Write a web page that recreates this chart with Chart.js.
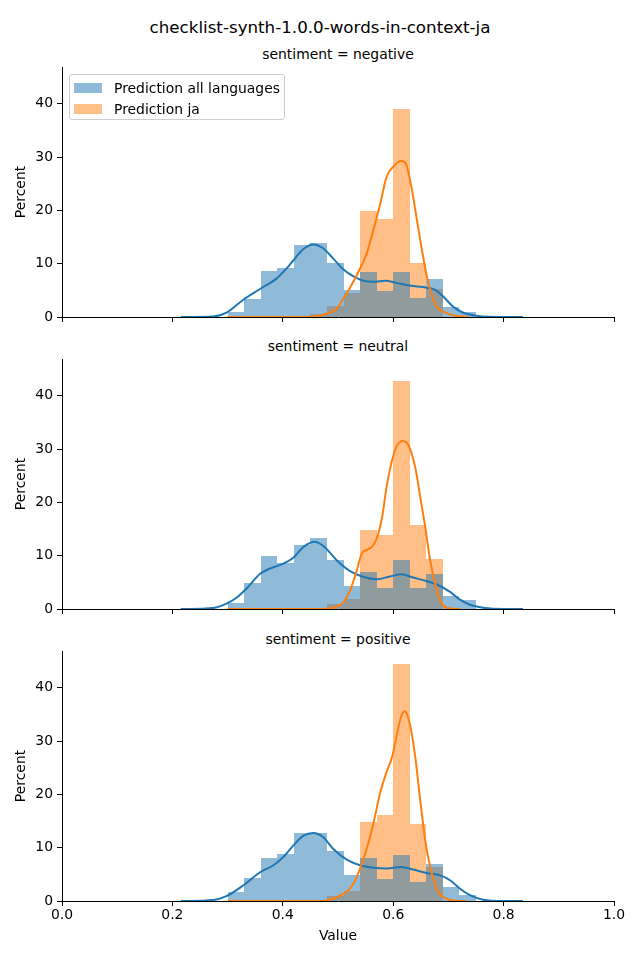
<!DOCTYPE html>
<html>
<head>
<meta charset="utf-8">
<script src="https://cdn.jsdelivr.net/npm/chart.js@4.4.0/dist/chart.umd.min.js"></script>
<style>
    body { margin: 0; background: #fff; font-family: "DejaVu Sans", sans-serif; color: #000; }
    #fig { position: relative; width: 640px; height: 960px; overflow: hidden; }
    .panel { position: absolute; left: 0; width: 640px; }
    .txt { position: absolute; white-space: nowrap; transform: translate(-50%, -50%); }
    .legend {
        position: absolute; left: 69px; top: 74px; width: 214px; height: 44px; z-index: 2;
        border: 1px solid #cccccc; border-radius: 3px; background: rgba(255, 255, 255, 0.8);
        font-size: 13.9px;
    }
    .legend .row { position: absolute; left: 4px; height: 16px; line-height: 16px; }
    .legend .swatch { position: absolute; left: 0; top: 2px; width: 28px; height: 10px; }
    .legend .label { position: absolute; left: 40px; top: -1px; white-space: nowrap; }
</style>
</head>
<body>
<div id="fig">
    <div class="txt" id="suptitle" style="left:320px; top:27px; font-size:16.7px;"></div>
    <div class="txt" id="title0" style="left:338px; top:54px; font-size:13.9px;"></div>
    <div class="txt" id="title1" style="left:338px; top:346px; font-size:13.9px;"></div>
    <div class="txt" id="title2" style="left:338px; top:639px; font-size:13.9px;"></div>

    <div class="panel" style="top:47px; height:290px;"><canvas id="panel0"></canvas></div>
    <div class="panel" style="top:339px; height:290px;"><canvas id="panel1"></canvas></div>
    <div class="panel" style="top:631px; height:329px;"><canvas id="panel2"></canvas></div>

    <div class="legend">
        <div class="row" style="top:6px;"><span class="swatch" style="background:rgba(31,119,180,0.5)"></span><span class="label" id="leg0"></span></div>
        <div class="row" style="top:27px;"><span class="swatch" style="background:rgba(255,127,14,0.5)"></span><span class="label" id="leg1"></span></div>
    </div>
</div>

<script>
const figTitle = 'checklist-synth-1.0.0-words-in-context-ja';
const panelTitles = ['sentiment = negative', 'sentiment = neutral', 'sentiment = positive'];
const seriesNames = ['Prediction all languages', 'Prediction ja'];

const binEdges = [0.30, 0.33, 0.36, 0.39, 0.42, 0.45, 0.48, 0.51, 0.54, 0.57, 0.60, 0.63, 0.66, 0.69, 0.72, 0.75];
const xTicks = [0.0, 0.2, 0.4, 0.6, 0.8, 1.0];
const yTicks = [0, 10, 20, 30, 40];

// histogram heights in percent, one value per bin
const negAll = [1.0, 3.4, 8.6, 9.2, 13.5, 13.8, 10.1, 5.1, 8.4, 4.9, 8.4, 3.6, 7.1, 1.9, 1.0];
const negJa = [0, 0, 0, 0, 0, 0.5, 2.1, 4.5, 19.9, 18.4, 39.0, 10.1, 5.2, 0, 0];
const neuAll = [1.1, 4.8, 9.9, 8.6, 12.1, 13.4, 9.1, 4.3, 6.9, 3.9, 9.1, 3.9, 6.5, 2.4, 1.6];
const neuJa = [0, 0, 0, 0, 0, 0, 0.9, 1.9, 14.8, 13.8, 42.7, 15.7, 9.3, 0, 0];
const posAll = [1.6, 4.4, 8.0, 8.8, 12.7, 12.7, 9.3, 4.8, 8.0, 4.1, 8.6, 3.5, 6.9, 2.6, 1.1];
const posJa = [0, 0, 0, 0, 0, 0, 0.9, 1.8, 14.8, 16.1, 44.4, 14.4, 6.3, 0, 0];

// kde curves
const negAllKdeX = [0.215, 0.274, 0.298, 0.328, 0.359, 0.389, 0.404, 0.419, 0.437, 0.455, 0.473, 0.491, 0.510, 0.528, 0.546, 0.564, 0.585, 0.606, 0.630, 0.661, 0.676, 0.691, 0.709, 0.727, 0.751, 0.775, 0.835];
const negAllKdeY = [0, 0.1, 0.8, 3.2, 5.25, 7.25, 8.8, 10.6, 12.7, 13.6, 12.9, 11.0, 8.9, 7.6, 6.8, 6.6, 6.8, 6.4, 5.9, 5.5, 5.1, 3.8, 1.9, 0.8, 0.25, 0.06, 0];
const negJaKdeX = [0.30, 0.42, 0.455, 0.479, 0.498, 0.510, 0.525, 0.540, 0.552, 0.564, 0.576, 0.588, 0.600, 0.615, 0.624, 0.633, 0.643, 0.652, 0.661, 0.670, 0.679, 0.691, 0.709, 0.736];
const negJaKdeY = [0, 0, 0.1, 0.6, 1.6, 3.5, 6.1, 9.1, 11.9, 16.3, 21.0, 26.3, 28.2, 29.25, 28.5, 24.4, 18.2, 12.6, 7.6, 4.1, 1.9, 1.0, 0.3, 0];

const neuAllKdeX = [0.215, 0.274, 0.298, 0.316, 0.334, 0.359, 0.377, 0.401, 0.419, 0.437, 0.458, 0.476, 0.498, 0.522, 0.546, 0.570, 0.594, 0.615, 0.636, 0.661, 0.679, 0.703, 0.721, 0.739, 0.763, 0.800, 0.835];
const neuAllKdeY = [0, 0.2, 1.0, 2.1, 3.8, 6.6, 7.6, 8.5, 9.6, 11.6, 12.6, 11.6, 9.1, 7.1, 6.0, 5.6, 6.1, 6.5, 5.9, 5.2, 4.6, 3.2, 1.75, 0.8, 0.25, 0, 0];
const neuJaKdeX = [0.30, 0.46, 0.479, 0.498, 0.510, 0.522, 0.534, 0.543, 0.552, 0.561, 0.570, 0.580, 0.588, 0.598, 0.607, 0.618, 0.629, 0.641, 0.649, 0.658, 0.667, 0.676, 0.685, 0.697, 0.721];
const neuJaKdeY = [0, 0, 0.06, 0.5, 1.3, 3.5, 7.25, 10.4, 11.1, 11.6, 13.2, 17.25, 22.9, 27.9, 30.7, 31.5, 30.4, 26.0, 21.0, 15.4, 9.1, 4.75, 1.6, 0.25, 0];

const posAllKdeX = [0.215, 0.274, 0.298, 0.328, 0.359, 0.383, 0.401, 0.419, 0.437, 0.455, 0.473, 0.491, 0.516, 0.540, 0.564, 0.588, 0.615, 0.636, 0.661, 0.685, 0.703, 0.721, 0.739, 0.763, 0.800, 0.835];
const posAllKdeY = [0, 0.2, 0.9, 2.9, 5.4, 6.7, 8.25, 10.4, 12.2, 12.75, 12.0, 9.8, 7.75, 6.7, 6.25, 6.1, 6.4, 5.9, 5.25, 4.8, 3.9, 2.3, 1.1, 0.25, 0, 0];
const posJaKdeX = [0.30, 0.46, 0.479, 0.498, 0.516, 0.528, 0.540, 0.552, 0.564, 0.576, 0.588, 0.598, 0.607, 0.615, 0.621, 0.630, 0.640, 0.649, 0.658, 0.667, 0.679, 0.691, 0.709, 0.733];
const posJaKdeY = [0, 0, 0.1, 0.75, 1.8, 3.25, 6.1, 9.8, 14.5, 20.1, 24.2, 27.0, 31.4, 34.8, 35.6, 33.25, 27.0, 18.9, 11.4, 6.4, 2.3, 0.75, 0.1, 0];

const blue = '#1f77b4';
const orange = '#ff7f0e';
const fontSize = 13.9;

document.getElementById('suptitle').textContent = figTitle;
panelTitles.forEach((t, i) => { document.getElementById('title' + i).textContent = t; });
seriesNames.forEach((t, i) => { document.getElementById('leg' + i).textContent = t; });

Chart.defaults.color = '#000';
Chart.defaults.font.family = '"DejaVu Sans", sans-serif';
Chart.defaults.font.size = fontSize;

const binCenters = binEdges.slice(0, -1).map((e, i) => (e + binEdges[i + 1]) / 2);
const toPoints = (xs, ys) => xs.map((x, i) => ({ x, y: ys[i] }));

// round bar edges to whole pixels so neighbouring half transparent bars meet without seams
const snapBars = {
    id: 'snapBars',
    afterDatasetsUpdate(chart) {
        chart.getSortedVisibleDatasetMetas().forEach((meta) => {
            if (meta.type !== 'bar') return;
            meta.data.forEach((bar) => {
                const left = Math.round(bar.x - bar.width / 2);
                const right = Math.round(bar.x + bar.width / 2);
                bar.x = (left + right) / 2;
                bar.width = right - left;
                bar.y = Math.round(bar.y);
                bar.base = Math.round(bar.base);
            });
        });
    },
};

function drawPanel(id, histAll, histJa, allKdeX, allKdeY, jaKdeX, jaKdeY, bottom) {
    const lineStyle = { type: 'line', pointRadius: 0, borderWidth: 2, fill: false, cubicInterpolationMode: 'monotone' };
    const barStyle = { grouped: false, barPercentage: 1, categoryPercentage: 1, borderWidth: 0, inflateAmount: 0 };
    const axisLine = { drawOnChartArea: false, drawTicks: true, tickLength: 5, color: '#000', lineWidth: 1 };

    return new Chart(document.getElementById(id), {
        type: 'bar',
        plugins: [snapBars],
        data: {
            datasets: [
                { ...lineStyle, data: toPoints(jaKdeX, jaKdeY), borderColor: orange, order: 0 },
                { ...lineStyle, data: toPoints(allKdeX, allKdeY), borderColor: blue, order: 1 },
                { ...barStyle, data: toPoints(binCenters, histAll), backgroundColor: 'rgba(31,119,180,0.5)', order: 2 },
                { ...barStyle, data: toPoints(binCenters, histJa), backgroundColor: 'rgba(255,127,14,0.5)', order: 3 },
            ],
        },
        options: {
            responsive: true,
            maintainAspectRatio: false,
            animation: false,
            layout: { padding: { top: 20, left: 0, right: 26, bottom: bottom ? 11 : 12 } },
            plugins: { legend: { display: false }, tooltip: { enabled: false } },
            scales: {
                x: {
                    type: 'linear',
                    min: 0,
                    max: 1,
                    offset: false,
                    afterBuildTicks: (s) => { s.ticks = xTicks.map((v) => ({ value: v })); },
                    afterFit: (s) => { s.height = bottom ? 48 : 8; },
                    ticks: {
                        display: bottom,
                        padding: 1,
                        maxRotation: 0,
                        autoSkip: false,
                        callback: (v) => Number(v).toFixed(1),
                    },
                    grid: { ...axisLine, offset: false },
                    border: { display: true, color: '#000', width: 1 },
                    title: { display: bottom, text: 'Value', padding: { top: 4, bottom: 4 } },
                },
                y: {
                    type: 'linear',
                    min: 0,
                    max: 46.9,
                    afterBuildTicks: (s) => { s.ticks = yTicks.map((v) => ({ value: v })); },
                    afterFit: (s) => { s.width = 62; },
                    ticks: { padding: 4 },
                    grid: axisLine,
                    border: { display: true, color: '#000', width: 1 },
                    title: { display: true, text: 'Percent', padding: { top: 13, bottom: 0 } },
                },
            },
        },
    });
}

drawPanel('panel0', negAll, negJa, negAllKdeX, negAllKdeY, negJaKdeX, negJaKdeY, false);
drawPanel('panel1', neuAll, neuJa, neuAllKdeX, neuAllKdeY, neuJaKdeX, neuJaKdeY, false);
drawPanel('panel2', posAll, posJa, posAllKdeX, posAllKdeY, posJaKdeX, posJaKdeY, true);
</script>
</body>
</html>
